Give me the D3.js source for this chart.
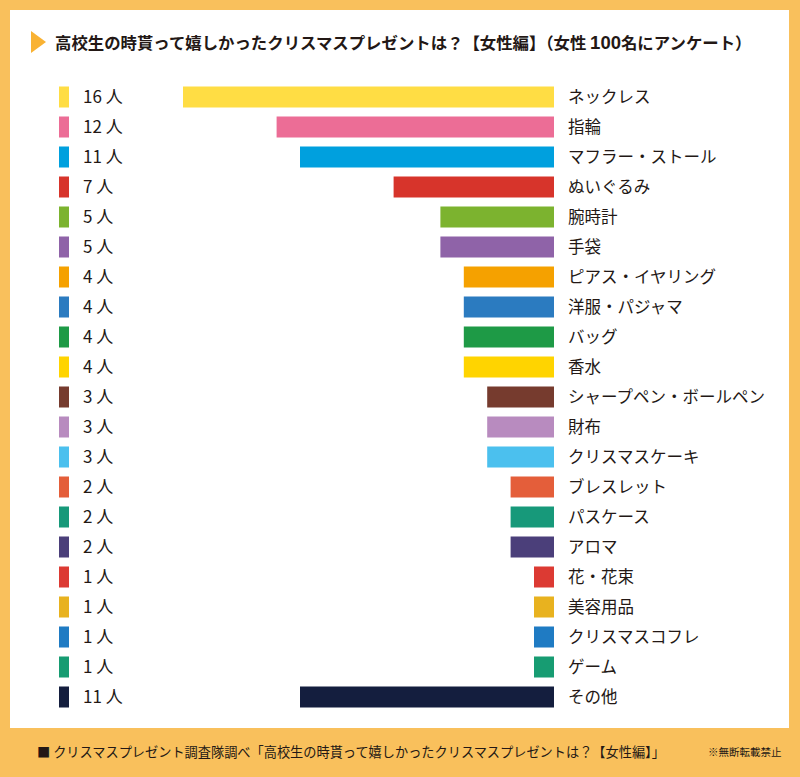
<!DOCTYPE html>
<html><head><meta charset="utf-8">
<script src="https://cdn.jsdelivr.net/npm/d3@7/dist/d3.min.js"></script>
<style>body{margin:0;background:#F9C05C}svg{display:block}</style>
</head><body>
<svg id="c" width="800" height="777"></svg>
<script>
const categories = ["ネックレス","指輪","マフラー・ストール","ぬいぐるみ","腕時計","手袋","ピアス・イヤリング","洋服・パジャマ","バッグ","香水","シャープペン・ボールペン","財布","クリスマスケーキ","ブレスレット","パスケース","アロマ","花・花束","美容用品","クリスマスコフレ","ゲーム","その他"];
const values = [16,12,11,7,5,5,4,4,4,4,3,3,3,2,2,2,1,1,1,1,11];
const colors = ["#FFDD44","#EC6D96","#00A0DE","#D7342B","#7CB32F","#8F63A8","#F5A100","#2B7BC0","#1E9A46","#FFD400","#763B2E","#B88BBF","#4BC0EE","#E45E3A","#17997A","#4B3F7A","#DC3A33","#E8B21F","#1F7BC3","#179C72","#141E3E"];
const unit = "人";
const titleText = ["高校生の時貰って嬉しかったクリスマスプレゼントは？【女性編】（女性 ","100","名にアンケート）"];
const footerText = "■ クリスマスプレゼント調査隊調べ「高校生の時貰って嬉しかったクリスマスプレゼントは？【女性編】」";
const noteText = "※無断転載禁止";

const svg = d3.select("#c");
const ink = "#231815";
const font = "'Noto Sans CJK JP','Noto Sans',sans-serif";

svg.append("rect").attr("x",0).attr("y",0).attr("width",800).attr("height",777).attr("fill","#F9C05C");
svg.append("rect").attr("x",10).attr("y",10).attr("width",779).attr("height",718).attr("fill","#fff");

// title
svg.append("path").attr("d","M31,31 L46,42 L31,53 Z").attr("fill","#F9B233");
const t = svg.append("text").attr("x",55).attr("y",49).attr("font-family",font).attr("font-weight",700)
  .attr("font-size",16.4).attr("fill",ink);
t.append("tspan").text(titleText[0]);
t.append("tspan").attr("font-size",18.5).attr("font-family","'Liberation Sans',Arial,sans-serif").text(titleText[1]);
t.append("tspan").text(titleText[2]);

const y = d3.scaleBand().domain(d3.range(categories.length)).range([82,712]).paddingInner(0.3).paddingOuter(0.15);
const x = d3.scaleLinear().domain([0,16]).range([557.4,183]);
const barRight = 554;

const rows = svg.append("g").selectAll("g").data(values).join("g");
rows.append("rect").attr("x",d=>x(d)).attr("y",(d,i)=>y(i)).attr("width",d=>barRight-x(d)).attr("height",y.bandwidth())
  .attr("fill",(d,i)=>colors[i]);
rows.append("rect").attr("x",59).attr("y",(d,i)=>y(i)).attr("width",10).attr("height",y.bandwidth()).attr("fill",(d,i)=>colors[i]);
rows.append("text").attr("x",83).attr("y",(d,i)=>y(i)+y.bandwidth()/2).attr("dy","0.36em")
  .attr("font-family",font).attr("font-size",17).attr("fill",ink).text(d=>d+" "+unit);
rows.append("text").attr("x",568).attr("y",(d,i)=>y(i)+y.bandwidth()/2).attr("dy","0.36em")
  .attr("font-family",font).attr("font-size",16.5).attr("fill",ink).text((d,i)=>categories[i]);

// footer
svg.append("text").attr("x",37).attr("y",757).attr("font-family",font).attr("font-size",13.2).attr("fill",ink)
  .text(footerText);
svg.append("text").attr("x",708).attr("y",756).attr("font-family",font).attr("font-size",10.5).attr("fill",ink)
  .text(noteText);
</script>
</body></html>
